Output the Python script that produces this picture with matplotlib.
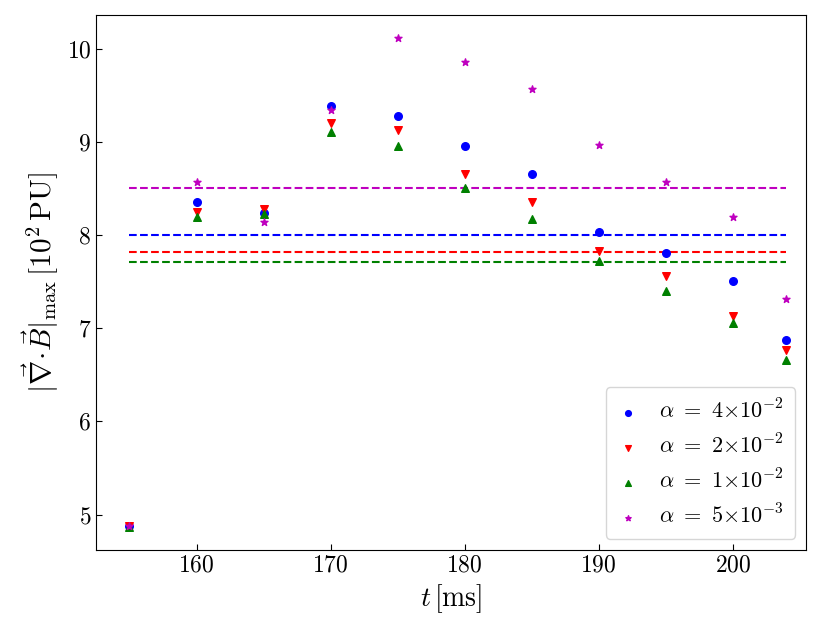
import matplotlib
matplotlib.use("Agg")
import matplotlib.pyplot as plt

plt.rcParams['mathtext.fontset'] = 'cm'
plt.rcParams['font.family'] = 'serif'
plt.rcParams['font.serif'] = ['cmr10', 'DejaVu Serif']
plt.rcParams['axes.formatter.use_mathtext'] = True
plt.rcParams['axes.unicode_minus'] = False

t = [155, 160, 165, 170, 175, 180, 185, 190, 195, 200, 204]
b_4e2 = [4.88, 8.35, 8.24, 9.38, 9.28, 8.95, 8.65, 8.03, 7.81, 7.51, 6.87]
b_2e2 = [4.88, 8.25, 8.28, 9.20, 9.13, 8.65, 8.35, 7.83, 7.56, 7.13, 6.77]
b_1e2 = [4.87, 8.19, 8.23, 9.10, 8.95, 8.50, 8.17, 7.72, 7.40, 7.05, 6.66]
b_5e3 = [4.88, 8.57, 8.14, 9.34, 10.11, 9.86, 9.57, 8.96, 8.57, 8.19, 7.31]
means = [8.00, 7.82, 7.71, 8.50]

labels = [r'$\alpha\ =\ 4{\times}10^{-2}$', r'$\alpha\ =\ 2{\times}10^{-2}$',
          r'$\alpha\ =\ 1{\times}10^{-2}$', r'$\alpha\ =\ 5{\times}10^{-3}$']
colors = ['b', 'r', 'g', 'm']
markers = ['o', 'v', '^', '*']
series = [b_4e2, b_2e2, b_1e2, b_5e3]

fig = plt.figure(figsize=(8.31, 6.38), dpi=100)
ax = fig.add_axes([0.1155, 0.138, 0.855, 0.8385])

for y, c, m, lab in zip(series, colors, markers, labels):
    ax.scatter(t, y, c=c, marker=m, s=30 if m != '*' else 28, label=lab, zorder=3)
for mv, c in zip(means, colors):
    ax.hlines(mv, t[0], t[-1], colors=c, linestyles='--', linewidth=1.5)

ax.set_xlim(152.5, 205.5)
ax.set_ylim(4.62, 10.36)
ax.set_xticks([160, 170, 180, 190, 200])
ax.set_yticks([5, 6, 7, 8, 9, 10])
ax.tick_params(direction='in', labelsize=17, length=4)
ax.set_xlabel(r'$t\,[\mathrm{ms}]$', fontsize=20)
ax.set_ylabel(r'$|\vec{\nabla}\!\cdot\!\vec{B}|_{\max}\,[10^2\,\mathrm{PU}]$', fontsize=21)
ax.legend(loc='lower right', fontsize=16, markerscale=0.75, handlelength=1.0,
          handletextpad=0.9, borderaxespad=0.5, labelspacing=0.5, borderpad=0.5)

fig.savefig('out.png', dpi=100)
